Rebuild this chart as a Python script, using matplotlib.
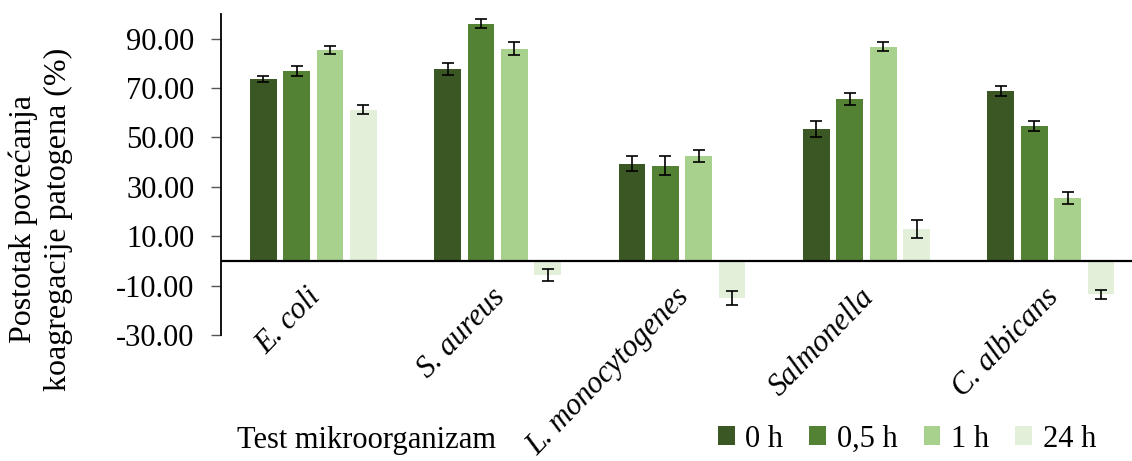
import numpy as np
import matplotlib
matplotlib.use("Agg")
import matplotlib.pyplot as plt
import matplotlib.transforms as mtransforms

plt.rcParams['font.family'] = ['Liberation Serif', 'DejaVu Serif']
plt.rcParams['axes.unicode_minus'] = False

# Data
categories = ['E. coli', 'S. aureus', 'L. monocytogenes', 'Salmonella', 'C. albicans']
series = ['0 h', '0,5 h', '1 h', '24 h']
values = {
    '0 h':   [73.7, 77.7, 39.4, 53.4, 68.8],
    '0,5 h': [77.0, 96.1, 38.5, 65.6, 54.6],
    '1 h':   [85.6, 85.9, 42.6, 86.8, 25.4],
    '24 h':  [61.3, -5.7, -15.1, 12.9, -13.5],
}
errors = {
    '0 h':   [1.3, 2.4, 3.0, 3.2, 1.9],
    '0,5 h': [2.0, 1.8, 3.8, 2.6, 1.9],
    '1 h':   [1.6, 2.6, 2.5, 1.8, 2.4],
    '24 h':  [1.8, 2.6, 2.8, 3.7, 1.9],
}
colors = ['#3b5724', '#548235', '#a9d18e', '#e2efd9']
yticks = [-30, -10, 10, 30, 50, 70, 90]

fig = plt.figure(figsize=(11.32, 4.61), dpi=100)
ax = fig.add_axes([221 / 1132, 1 - 335 / 461, 1 - 221 / 1132, (335 - 14) / 461])

x = np.arange(len(categories))
step = 0.181
width = 0.145
for i, s in enumerate(series):
    ax.bar(x + (i - 1.5) * step, values[s], width, color=colors[i], label=s, zorder=2)
    ax.errorbar(x + (i - 1.5) * step, values[s], yerr=errors[s], fmt='none',
                ecolor='black', elinewidth=1.2, capsize=4.5, capthick=1.2, zorder=3)

ax.axhline(0, color='black', linewidth=1.6, zorder=4)
ax.set_xlim(-0.5, 4.44)
ax.set_ylim(-30, 100)
ax.set_yticks(yticks)
ax.set_yticklabels([f'{v:.2f}' for v in yticks], fontsize=22)
ax.tick_params(axis='y', length=7, width=1, color='#555555', pad=12)
ax.set_xticks([])
for side in ['top', 'right', 'bottom']:
    ax.spines[side].set_visible(False)
ax.spines['left'].set_linewidth(1.3)

# category labels next to the zero line
offset = mtransforms.offset_copy(ax.transData, fig=fig, x=3, y=-32, units='dots')
for xi, name in zip(x, categories):
    ax.text(xi, 0, name, transform=offset, rotation=46, rotation_mode='anchor',
            ha='right', va='center', fontsize=22, style='italic')

fig.text(0.036, 0.525, 'Postotak povećanja\nkoagregacije patogena (%)', rotation=90,
         ha='center', va='center', fontsize=23, linespacing=1.3)
fig.text(237 / 1132, 1 - 440 / 461, 'Test mikroorganizam', ha='left', va='center', fontsize=22)

fig.legend(loc='center right', bbox_to_anchor=(1096 / 1132, 1 - 439 / 461), ncol=4,
           frameon=False, fontsize=22, handlelength=0.55, handleheight=0.55,
           handletextpad=0.35, columnspacing=0.85, borderpad=0, borderaxespad=0)

fig.savefig('out.png', dpi=100)
